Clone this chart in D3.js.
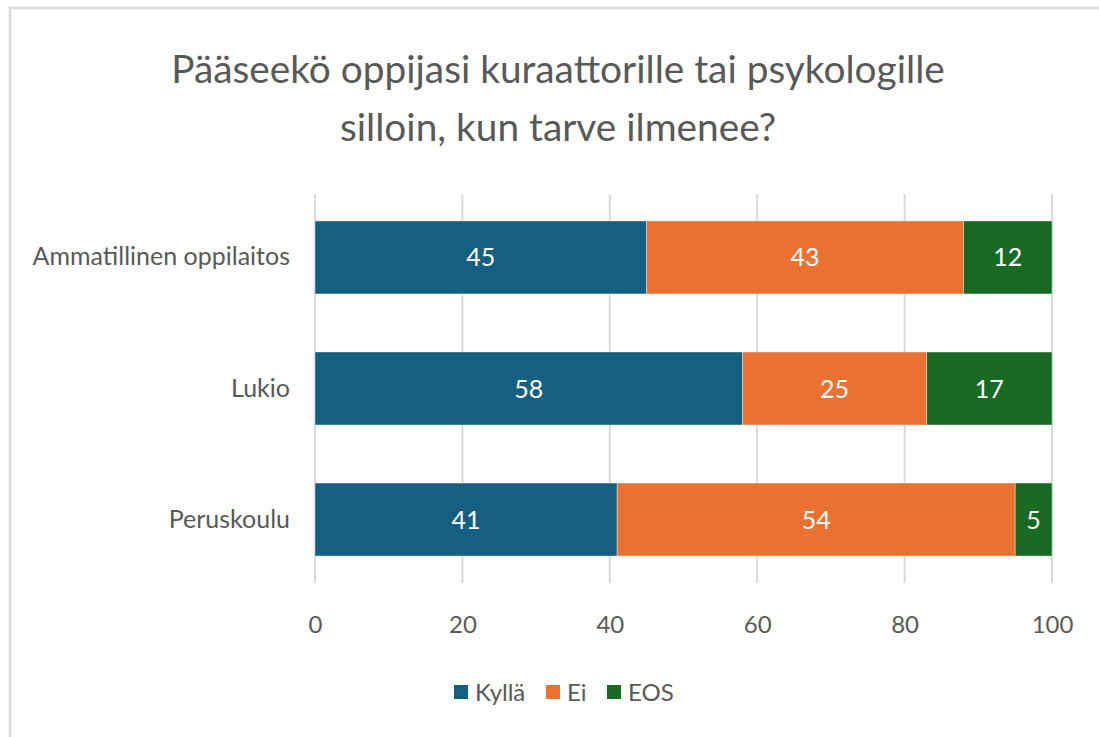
<!DOCTYPE html>
<html>
<head>
<meta charset="utf-8">
<script src="https://cdn.jsdelivr.net/npm/d3@7"></script>
<style>
  body { margin: 0; background: #fff; }
  text { font-family: Lato, "Open Sans", sans-serif; }
</style>
</head>
<body>
<svg id="chart"></svg>
<script>
const categories = ["Ammatillinen oppilaitos", "Lukio", "Peruskoulu"]
const seriesNames = ["Kyllä", "Ei", "EOS"]
const kylla = [45, 58, 41]
const ei = [43, 25, 54]
const eos = [12, 17, 5]
const xTicks = [0, 20, 40, 60, 80, 100]
const titleLines = ["Pääseekö oppijasi kuraattorille tai psykologille", "silloin, kun tarve ilmenee?"]
const colors = ["#156082", "#E97132", "#196B24"]

const width = 1099
const height = 737
const margin = { left: 315, right: 47, top: 192, bottom: 152 }

const svg = d3.select("#chart")
  .attr("width", width)
  .attr("height", height)

// chart frame
svg.append("rect")
  .attr("x", 10).attr("y", 8)
  .attr("width", width + 20).attr("height", height + 20)
  .attr("fill", "#fff")
  .attr("stroke", "#d9d9d9")
  .attr("stroke-width", 2.5)

const rows = categories.map((c, i) => ({ name: c, "Kyllä": kylla[i], "Ei": ei[i], "EOS": eos[i] }))
const stacked = d3.stack().keys(seriesNames)(rows)

const x = d3.scaleLinear().domain([0, 100]).range([margin.left, width - margin.right])
const y = d3.scaleBand().domain(categories)
  .range([margin.top, height - margin.bottom])
  .paddingInner(0.443).paddingOuter(0.221)

// gridlines
svg.append("g")
  .selectAll("line")
  .data(xTicks)
  .join("line")
  .attr("x1", d => x(d)).attr("x2", d => x(d))
  .attr("y1", margin.top + 2).attr("y2", height - margin.bottom - 2)
  .attr("stroke", "#d9d9d9")
  .attr("stroke-width", 2)

// bars
const layer = svg.append("g")
  .selectAll("g")
  .data(stacked)
  .join("g")
  .attr("fill", (d, i) => colors[i])

layer.selectAll("rect")
  .data(d => d)
  .join("rect")
  .attr("x", d => x(d[0]))
  .attr("y", d => y(d.data.name))
  .attr("width", d => x(d[1]) - x(d[0]))
  .attr("height", y.bandwidth())
  .attr("stroke", "#fff")
  .attr("stroke-opacity", 0.5)
  .attr("stroke-width", 0.75)

layer.selectAll("text")
  .data(d => d)
  .join("text")
  .attr("x", d => (x(d[0]) + x(d[1])) / 2)
  .attr("y", d => y(d.data.name) + y.bandwidth() / 2)
  .attr("dy", "0.36em")
  .attr("text-anchor", "middle")
  .attr("fill", "#fff")
  .attr("font-size", 25)
  .text(d => d[1] - d[0])

// x axis
const xAxis = svg.append("g")
  .attr("transform", `translate(0,${height - margin.bottom})`)
  .call(d3.axisBottom(x).tickValues(xTicks).tickSize(0).tickPadding(31))
xAxis.select(".domain").remove()
xAxis.selectAll("text").attr("font-size", 24).attr("fill", "#595959")
  .style("font-family", "Lato, sans-serif")

// y axis
const yAxis = svg.append("g")
  .attr("transform", `translate(${margin.left},0)`)
  .call(d3.axisLeft(y).tickSize(0).tickPadding(25))
yAxis.select(".domain").remove()
yAxis.selectAll("text").attr("font-size", 25).attr("fill", "#595959")
  .style("font-family", "Lato, sans-serif")

// title
svg.append("text")
  .attr("x", 558).attr("y", 83)
  .attr("text-anchor", "middle")
  .attr("fill", "#595959")
  .attr("font-size", 38.8)
  .selectAll("tspan")
  .data(titleLines)
  .join("tspan")
  .attr("x", 558)
  .attr("dy", (d, i) => i === 0 ? 0 : 58)
  .text(d => d)

// legend
const legendX = [454, 546, 607]
const legend = svg.append("g")
  .selectAll("g")
  .data(seriesNames)
  .join("g")
  .attr("transform", (d, i) => `translate(${legendX[i]},692)`)
legend.append("rect")
  .attr("x", 0).attr("y", -7)
  .attr("width", 14).attr("height", 14)
  .attr("fill", (d, i) => colors[i])
legend.append("text")
  .attr("x", 21).attr("dy", "0.36em")
  .attr("font-size", 24)
  .attr("fill", "#595959")
  .text(d => d)
</script>
</body>
</html>
